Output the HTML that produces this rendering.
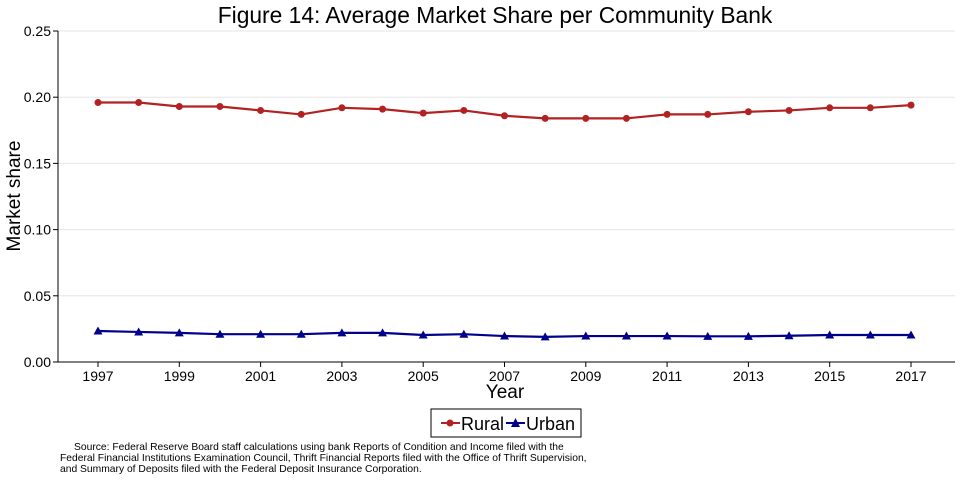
<!DOCTYPE html>
<html><head><meta charset="utf-8"><style>
body{margin:0;background:#fff;font-family:"Liberation Sans",sans-serif}
svg text{font-family:"Liberation Sans",sans-serif}
</style></head><body>
<svg width="960" height="480" viewBox="0 0 960 480" xmlns="http://www.w3.org/2000/svg">
<rect width="960" height="480" fill="#fff"/>
<text x="495" y="23" font-size="22.8" text-anchor="middle">Figure 14: Average Market Share per Community Bank</text>
<g id="grid"></g>
<g id="axes"></g>
<g id="series"></g>
<text x="20" y="196" font-size="19" text-anchor="middle" transform="rotate(-90 20 196)">Market share</text>
<text x="505" y="398" font-size="19" text-anchor="middle">Year</text>
<g>
<rect x="431" y="409" width="150" height="28" fill="#fff" stroke="#000" stroke-width="1"/>
<g>
<line x1="441" y1="423" x2="460" y2="423" stroke="#b22222" stroke-width="2"/>
<circle cx="450" cy="423" r="3.5" fill="#b22222"/>
<text x="461" y="430" font-size="18">Rural</text></g>
<g>
<line x1="506" y1="423" x2="525" y2="423" stroke="#00008b" stroke-width="2"/>
<polygon points="515.5,418 520,427 511,427" fill="#00008b"/>
<text x="526" y="430" font-size="18">Urban</text></g>
</g>
<text font-size="10.3">
<tspan x="74" y="450">Source: Federal Reserve Board staff calculations using bank Reports of Condition and Income filed with the</tspan>
<tspan x="60" y="461">Federal Financial Institutions Examination Council, Thrift Financial Reports filed with the Office of Thrift Supervision,</tspan>
<tspan x="60" y="472">and Summary of Deposits filed with the Federal Deposit Insurance Corporation.</tspan>
</text>
</svg>
<script>
const years=[1997,1998,1999,2000,2001,2002,2003,2004,2005,2006,2007,2008,2009,2010,2011,2012,2013,2014,2015,2016,2017];
const rural=[0.196,0.196,0.193,0.193,0.190,0.187,0.192,0.191,0.188,0.190,0.186,0.184,0.184,0.184,0.187,0.187,0.189,0.190,0.192,0.192,0.194];
const urban=[0.0234,0.0227,0.022,0.021,0.021,0.021,0.022,0.022,0.0204,0.021,0.0196,0.019,0.0196,0.0196,0.0196,0.0194,0.0194,0.0198,0.0204,0.0204,0.0204];
const yTicks=[0,0.05,0.10,0.15,0.20,0.25];
const xTicks=[1997,1999,2001,2003,2005,2007,2009,2011,2013,2015,2017];
const NS="http://www.w3.org/2000/svg";
const x=v=>98+(v-1997)*(911-98)/20;
const y=v=>362-v*(362-31)/0.25;
function mk(t,a,p){const e=document.createElementNS(NS,t);for(const k in a)e.setAttribute(k,a[k]);p.appendChild(e);return e;}
const grid=document.getElementById('grid'),axes=document.getElementById('axes'),ser=document.getElementById('series');
yTicks.forEach(v=>{
 const g=mk('line',{x1:58,x2:955,y1:y(v),y2:y(v),stroke:'#e6e6e6','stroke-width':1},grid);
 
 
 mk('line',{x1:53,x2:58,y1:y(v),y2:y(v),stroke:'#000'},axes);
 const t=mk('text',{x:51,y:y(v)+5,'font-size':14,'text-anchor':'end'},axes);
 t.textContent=v.toFixed(2);
 
 
});
xTicks.forEach(v=>{
 mk('line',{x1:x(v),x2:x(v),y1:362,y2:367,stroke:'#000'},axes);
 const t=mk('text',{x:x(v),y:381,'font-size':14,'text-anchor':'middle'},axes);
 t.textContent=v;
 
 
});
const ya=mk('line',{x1:58,x2:58,y1:31,y2:362,stroke:'#000'},axes);


const xa=mk('line',{x1:58,x2:955,y1:362,y2:362,stroke:'#000'},axes);


function series(vals,color,shape,name){
 const pl=mk('polyline',{points:vals.map((v,i)=>x(years[i])+','+y(v)).join(' '),fill:'none',stroke:color,'stroke-width':2.2},ser);
 
 
 vals.forEach((v,i)=>{
  const cx=x(years[i]),cy=y(v);let m;
  if(shape==='c')m=mk('circle',{cx:cx,cy:cy,r:3.5,fill:color},ser);
  else m=mk('polygon',{points:`${cx},${cy-4.5} ${cx+4.5},${cy+3.5} ${cx-4.5},${cy+3.5}`,fill:color},ser);
  
  
 });
}
series(rural,'#b22222','c','rural');
series(urban,'#00008b','t','urban');
</script>
</body></html>
